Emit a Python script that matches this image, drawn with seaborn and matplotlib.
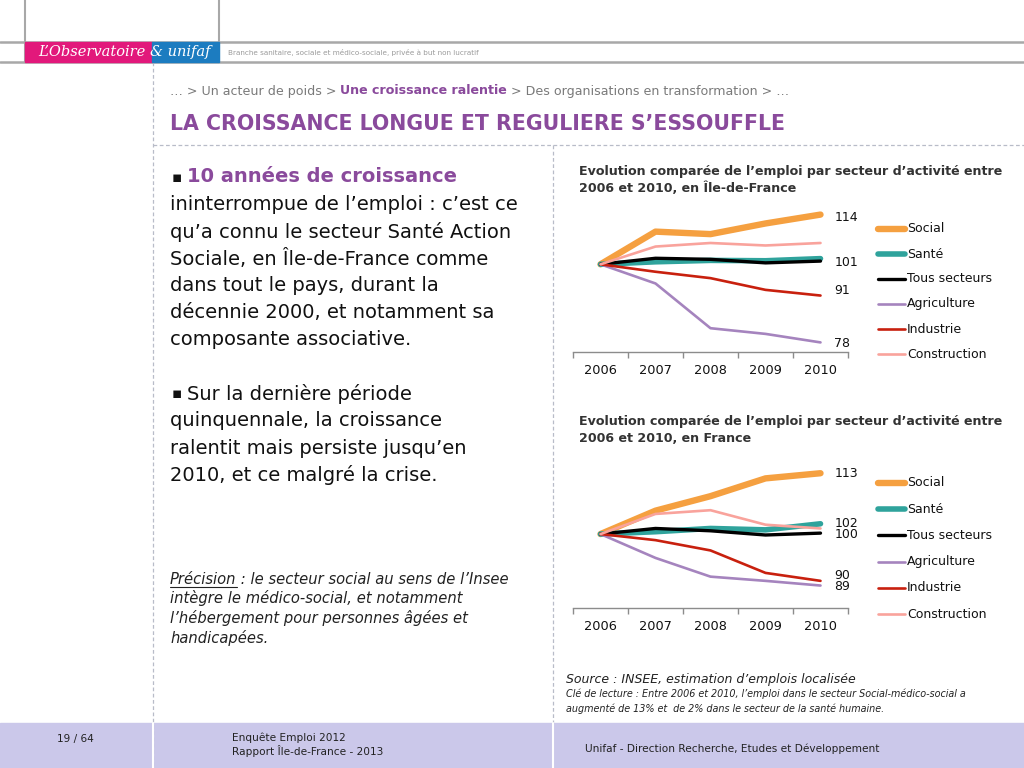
import pandas as pd
import matplotlib.pyplot as plt
import seaborn as sns
from matplotlib.lines import Line2D
from matplotlib.patches import Rectangle

# Données (indice base 100 en 2006)
annees = ["2006", "2007", "2008", "2009", "2010"]
secteurs = ["Social", "Santé", "Tous secteurs", "Agriculture", "Industrie", "Construction"]

idf_social = [100, 109.2, 108.5, 111.5, 114]
idf_sante = [100, 100.7, 101.1, 101.0, 101.6]
idf_tous = [100, 101.7, 101.4, 100.4, 100.9]
idf_agri = [100, 94.6, 82.0, 80.4, 78]
idf_indus = [100, 97.9, 96.1, 92.8, 91.2]
idf_constr = [100, 105.0, 106.0, 105.3, 106.0]

fr_social = [100, 105.0, 108.1, 111.9, 113]
fr_sante = [100, 100.5, 101.2, 100.9, 102.2]
fr_tous = [100, 101.2, 100.7, 99.8, 100.2]
fr_agri = [100, 94.9, 90.9, 90.0, 89]
fr_indus = [100, 98.7, 96.5, 91.7, 90]
fr_constr = [100, 104.3, 105.1, 102.0, 101.2]

idf_labels = ["114", "101", "91", "78"]
idf_label_vals = [114, 101, 91, 78]
fr_labels = ["113", "102", "100", "90", "89"]
fr_label_vals = [113, 102, 100, 90, 89]

couleurs = {"Social": "#F5A040", "Santé": "#2FA39C", "Tous secteurs": "#000000",
            "Agriculture": "#A584BE", "Industrie": "#C8200E", "Construction": "#F9A39C"}
epaisseurs = {"Social": 4.6, "Santé": 4.0, "Tous secteurs": 2.4,
              "Agriculture": 1.9, "Industrie": 1.9, "Construction": 1.9}


def long_df(series):
    rows = []
    for nom, vals in zip(secteurs, series):
        for i, v in enumerate(vals):
            rows.append({"secteur": nom, "annee": i, "indice": v})
    return pd.DataFrame(rows)


df_idf = long_df([idf_social, idf_sante, idf_tous, idf_agri, idf_indus, idf_constr])
df_fr = long_df([fr_social, fr_sante, fr_tous, fr_agri, fr_indus, fr_constr])

sns.set_theme(style="white")
plt.rcParams["font.family"] = ["DejaVu Sans"]

W, H = 1024, 768
fig = plt.figure(figsize=(10.24, 7.68), dpi=100)


def fx(x):
    return x / W


def fy(y):
    return 1 - y / H


def txt(x, y, s, **kw):
    kw.setdefault("va", "center")
    fig.text(fx(x), fy(y), s, **kw)


def hline(x0, x1, y, **kw):
    fig.add_artist(Line2D([fx(x0), fx(x1)], [fy(y), fy(y)], transform=fig.transFigure, **kw))


def vline(x, y0, y1, **kw):
    fig.add_artist(Line2D([fx(x), fx(x)], [fy(y0), fy(y1)], transform=fig.transFigure, **kw))


# --- en-tête
hline(0, W, 42, color="#A8A8A8", lw=1.8)
hline(0, W, 62, color="#A8A8A8", lw=1.8)
vline(25, 0, 62, color="#A8A8A8", lw=1.5)
vline(219, 0, 62, color="#A8A8A8", lw=1.5)
fig.add_artist(Rectangle((fx(25), fy(62)), fx(127), 20 / H, transform=fig.transFigure,
                         color="#E2187B", zorder=3))
fig.add_artist(Rectangle((fx(152), fy(62)), fx(67), 20 / H, transform=fig.transFigure,
                         color="#1C7CC0", zorder=3))
txt(38, 52, "L’Observatoire", color="white", fontsize=10.5, style="italic",
    family="DejaVu Serif", zorder=4)
txt(150, 52, "& unifaf", color="white", fontsize=10.5, style="italic",
    family="DejaVu Serif", zorder=4)
txt(228, 52, "Branche sanitaire, sociale et médico-sociale, privée à but non lucratif",
    color="#9A9A9A", fontsize=5.2)

# --- pointillés de structure
ligne_tiret = dict(color="#B8BCC8", lw=0.9, ls=(0, (3, 2)))
vline(153, 62, H, **ligne_tiret)
hline(153, W, 145, **ligne_tiret)
vline(553, 145, 723, **ligne_tiret)

# --- fil d'ariane et titre
violet = "#8A4A9C"
gris = "#7A7A7A"
t1 = fig.text(fx(170), fy(91), "… > Un acteur de poids > ", color=gris, fontsize=9.1, va="center")
fig.canvas.draw()
r = fig.canvas.get_renderer()
bb = t1.get_window_extent(r)
t2 = fig.text(bb.x1 / W, fy(91), "Une croissance ralentie", color=violet, fontsize=9.1,
              fontweight="bold", va="center")
bb2 = t2.get_window_extent(r)
fig.text(bb2.x1 / W, fy(91), " > Des organisations en transformation > …", color=gris,
         fontsize=9.1, va="center")
txt(170, 124, "LA CROISSANCE LONGUE ET REGULIERE S’ESSOUFFLE", color=violet,
    fontsize=14.8, fontweight="bold")

# --- texte de gauche
corps = dict(fontsize=14.0, color="#111111")
b = fig.text(fx(172), fy(177), "▪ ", fontsize=11, color="#111111", va="center")
bb3 = b.get_window_extent(r)
fig.text(bb3.x1 / W, fy(177), "10 années de croissance", color=violet, fontsize=14.0,
         fontweight="bold", va="center")
lignes1 = ["ininterrompue de l’emploi : c’est ce", "qu’a connu le secteur Santé Action",
           "Sociale, en Île-de-France comme", "dans tout le pays, durant la",
           "décennie 2000, et notamment sa", "composante associative."]
for i, l in enumerate(lignes1):
    txt(170, 205 + 27 * i, l, **corps)
b2 = fig.text(fx(172), fy(394), "▪ ", fontsize=11, color="#111111", va="center")
bb4 = b2.get_window_extent(r)
fig.text(bb4.x1 / W, fy(394), "Sur la dernière période", va="center", **corps)
lignes2 = ["quinquennale, la croissance",
           "ralentit mais persiste jusqu’en", "2010, et ce malgré la crise."]
for i, l in enumerate(lignes2):
    txt(170, 421 + 27 * i, l, **corps)

prec = dict(fontsize=10.6, color="#222222", style="italic")
p = fig.text(fx(170), fy(579), "Précision", va="center", **prec)
bbp = p.get_window_extent(r)
hline(170, bbp.x1, 587, color="#222222", lw=0.8)
fig.text(bbp.x1 / W, fy(579), " : le secteur social au sens de l’Insee", va="center", **prec)
for i, l in enumerate(["intègre le médico-social, et notamment",
                       "l’hébergement pour personnes âgées et", "handicapées."]):
    txt(170, 598 + 20 * i, l, **prec)


# --- graphiques
def graphique(df, box, ylim, titre, y_titre, labels, label_vals, label_dy, leg_y, leg_sp):
    x0, y0, x1, y1 = box
    ax = fig.add_axes([fx(x0), fy(y1), (x1 - x0) / W, (y1 - y0) / H])
    sns.lineplot(data=df, x="annee", y="indice", hue="secteur", size="secteur",
                 hue_order=secteurs, size_order=secteurs, palette=couleurs,
                 sizes=epaisseurs, legend=False, ax=ax, solid_capstyle="round")
    ax.set_xlim(-0.5, 4.5)
    ax.set_ylim(*ylim)
    for s in ["top", "right", "left"]:
        ax.spines[s].set_visible(False)
    ax.spines["bottom"].set_color("#8C8C8C")
    ax.spines["bottom"].set_linewidth(1.0)
    ax.set_xticks([-0.5, 0.5, 1.5, 2.5, 3.5, 4.5])
    ax.set_xticklabels([])
    ax.set_xticks(range(5), minor=True)
    ax.set_xticklabels(annees, minor=True, fontsize=9.3, color="#111111")
    ax.tick_params(axis="x", which="major", length=4, color="#8C8C8C", width=1, bottom=True)
    ax.tick_params(axis="x", which="minor", length=0, pad=9)
    ax.set_yticks([])
    ax.set_xlabel("")
    ax.set_ylabel("")
    ax.patch.set_alpha(0)
    for lab, v, dy in zip(labels, label_vals, label_dy):
        ax.annotate(lab, (4, v), xytext=(10, dy), textcoords="offset points",
                    fontsize=9, color="#111111", va="center", ha="left")
    txt(579, y_titre, titre[0], fontsize=9.05, fontweight="bold", color="#333333")
    txt(579, y_titre + 17, titre[1], fontsize=9.05, fontweight="bold", color="#333333")
    # légende
    for i, nom in enumerate(secteurs):
        yy = leg_y + leg_sp * i
        fig.add_artist(Line2D([fx(878), fx(905)], [fy(yy), fy(yy)], transform=fig.transFigure,
                              color=couleurs[nom], lw=epaisseurs[nom], solid_capstyle="round"))
        txt(907, yy, nom, fontsize=9, color="#111111")


graphique(df_idf, (573, 205, 848, 352), (75.3, 116.7),
          ["Evolution comparée de l’emploi par secteur d’activité entre",
           "2006 et 2010, en Île-de-France"], 171,
          idf_labels, idf_label_vals, [-2, -1.5, 4.5, -1], 229, 25)
graphique(df_fr, (573, 462, 848, 608), (84.2, 115.4),
          ["Evolution comparée de l’emploi par secteur d’activité entre",
           "2006 et 2010, en France"], 422,
          fr_labels, fr_label_vals, [0, 1, 0, 4, -1], 483, 26.2)

# --- source
txt(566, 679, "Source : INSEE, estimation d’emplois localisée", fontsize=9.0,
    style="italic", color="#222222")
txt(566, 694, "Clé de lecture : Entre 2006 et 2010, l’emploi dans le secteur Social-médico-social a",
    fontsize=6.95, style="italic", color="#222222")
txt(566, 709, "augmenté de 13% et  de 2% dans le secteur de la santé humaine.",
    fontsize=6.95, style="italic", color="#222222")

# --- pied de page
fig.add_artist(Rectangle((0, 0), 1, 45 / H, transform=fig.transFigure, color="#CBC8EA", zorder=1))
vline(153, 723, H, color="white", lw=1.5, zorder=2)
vline(553, 723, H, color="white", lw=1.5, zorder=2)
txt(75, 739, "19 / 64", fontsize=7.6, color="#222222", ha="center", zorder=3)
txt(232, 738, "Enquête Emploi 2012", fontsize=7.6, color="#222222", zorder=3)
txt(232, 751, "Rapport Île-de-France - 2013", fontsize=7.6, color="#222222", zorder=3)
txt(585, 749, "Unifaf - Direction Recherche, Etudes et Développement", fontsize=7.6,
    color="#222222", zorder=3)

fig.savefig("out.png", dpi=100)
